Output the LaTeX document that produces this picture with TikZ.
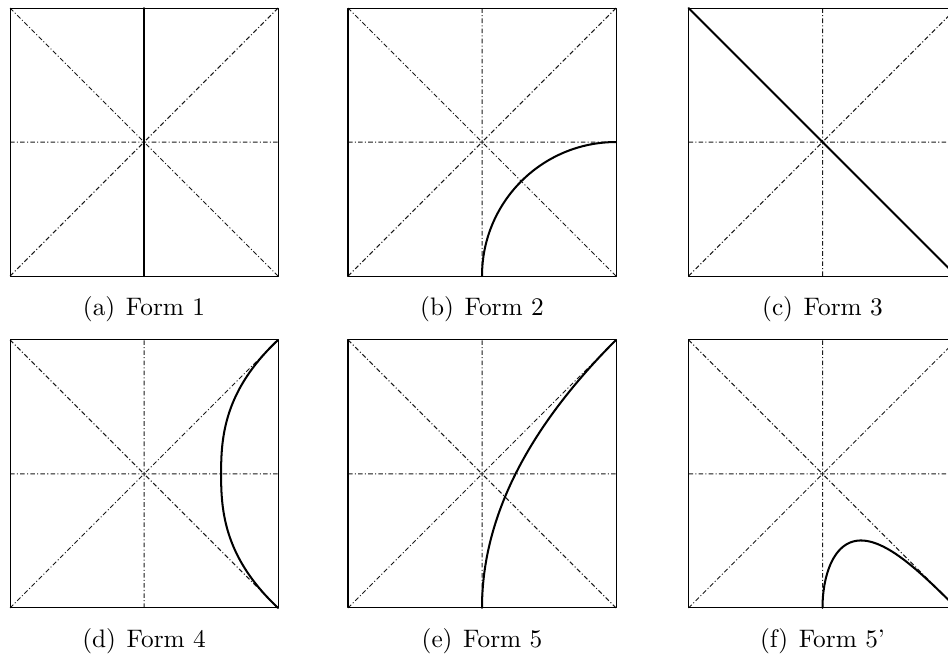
\documentclass[tikz,border=0pt]{standalone}
\usetikzlibrary{calc}

\begin{document}
\begin{tikzpicture}[x=52.96pt, y=52.96pt, line cap=round, line join=round]

% ---------- styles ----------
\tikzset{
  formFrame/.style   ={draw, line width=0.4pt},
  formGuide/.style   ={draw, line width=0.4pt, black!90, line cap=butt,
                       dash pattern=on 1.8pt off 0.9pt on 0.4pt off 0.9pt},
  formCurve/.style   ={draw, line width=0.8pt},
  formCaption/.style ={anchor=base, inner sep=0pt, font=\normalsize}
}

% ---------- page ----------
\useasboundingbox (0,0) rectangle (7.0746,-4.9030);
\clip (0,0) rectangle (7.0746,-4.9030);

% Panel centres (half side = 1)
\coordinate (formA) at (1.075,-1.06);
\coordinate (formB) at (3.597,-1.06);
\coordinate (formC) at (6.138,-1.06);
\coordinate (formD) at (1.075,-3.537);
\coordinate (formE) at (3.597,-3.537);
\coordinate (formF) at (6.138,-3.537);

% ---------- frames and guide lines ----------
\foreach \p in {formA,formB,formC,formD,formE,formF}{
  \begin{scope}[shift={(\p)}]
    \path[formGuide] (-1,0) -- (1,0) (0,-1) -- (0,1)
                     (-1,-1) -- (1,1) (-1,1) -- (1,-1);
    \path[formFrame] (-1,-1) rectangle (1,1);
  \end{scope}
}

% ---------- Form 1: vertical line ----------
\begin{scope}[shift={(formA)}]
  \path[formCurve] (0,-1) -- (0,1);
\end{scope}

% ---------- Form 2: quarter circle ----------
\begin{scope}[shift={(formB)}]
  \path[formCurve] (0,-1) arc[start angle=180, end angle=90, radius=1];
\end{scope}

% ---------- Form 3: diagonal ----------
\begin{scope}[shift={(formC)}]
  \path[formCurve] (-1,1) -- (1,-1);
\end{scope}

% ---------- Form 4: bow between right corners ----------
\begin{scope}[shift={(formD)}]
  \path[formCurve] plot[domain=-1:1, samples=60, variable=\t, smooth]
    ({0.575+0.425*abs(\t)*abs(\t)*sqrt(abs(\t))}, \t);
\end{scope}

% ---------- Form 5: parabola ----------
\begin{scope}[shift={(formE)}]
  \path[formCurve] plot[domain=-1:1, samples=60, variable=\t, smooth]
    ({(\t+1)*(\t+1)/4}, \t);
\end{scope}

% ---------- Form 5': hump to lower corner ----------
\begin{scope}[shift={(formF)}]
  \path[formCurve] plot[domain=0:1, samples=50, variable=\t, smooth]
    ({\t*\t}, {-1+\t*(1-\t*\t)*(1.447-0.447*\t*\t)});
\end{scope}

% ---------- captions ----------
\node[formCaption] (capA) at ($(formA)+(0,-1.296)$) {(a)\hspace{4.2pt}Form 1};
\node[formCaption] (capB) at ($(formB)+(0,-1.296)$) {(b)\hspace{4.2pt}Form 2};
\node[formCaption] (capC) at ($(formC)+(0,-1.296)$) {(c)\hspace{4.2pt}Form 3};
\node[formCaption] (capD) at ($(formD)+(0,-1.296)$) {(d)\hspace{4.2pt}Form 4};
\node[formCaption] (capE) at ($(formE)+(0,-1.296)$) {(e)\hspace{4.2pt}Form 5};
\node[formCaption] (capF) at ($(formF)+(0,-1.296)$) {(f)\hspace{4.2pt}Form 5'};

\end{tikzpicture}
\end{document}
